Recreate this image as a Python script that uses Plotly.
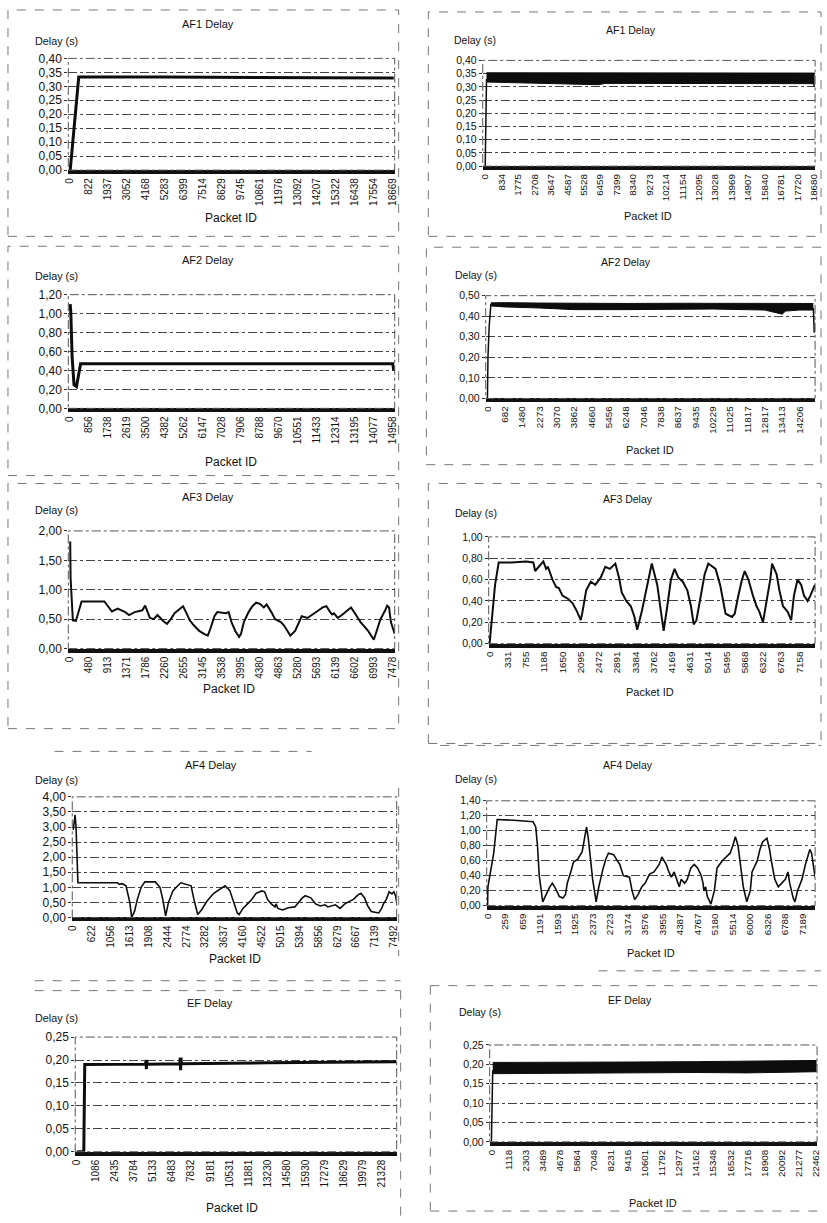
import plotly.graph_objects as go

FONT = "Liberation Sans, Arial, sans-serif"

# ===================== DATA (x = position in tick-label units) =====================
# --- AF1 left ---
AF1L_ticks = ["0", "822", "1937", "3052", "4168", "5283", "6399", "7514", "8629", "9745",
              "10861", "11976", "13092", "14207", "15322", "16438", "17554", "18669"]
AF1L_x = [0.0, 0.45, 5.0, 10.0, 17.05]
AF1L_y = [0.0, 0.333, 0.333, 0.331, 0.330]

# --- AF1 right ---
AF1R_ticks = ["0", "834", "1775", "2708", "3647", "4587", "5528", "6459", "7399", "8340",
              "9273", "10214", "11154", "12095", "13028", "13969", "14907", "15840", "16781",
              "17720", "18680"]
AF1R_rise_x = [0.0, 0.03, 0.08]
AF1R_rise_y = [0.0, 0.20, 0.33]
AF1R_band_x = [0.08, 3.0, 6.9, 7.3, 12.0, 17.0, 19.95, 20.05]
AF1R_band_lo = [0.318, 0.314, 0.308, 0.313, 0.312, 0.310, 0.312, 0.300]
AF1R_band_hi = [0.353, 0.353, 0.352, 0.352, 0.352, 0.351, 0.352, 0.352]

# --- AF2 left ---
AF2L_ticks = ["0", "856", "1738", "2619", "3500", "4382", "5262", "6147", "7028", "7906",
              "8788", "9670", "10551", "11433", "12314", "13195", "14077", "14958"]
AF2L_x = [0.0, 0.03, 0.1, 0.2, 0.33, 0.42, 0.55, 8.0, 17.0, 17.05]
AF2L_y = [1.10, 1.02, 0.55, 0.25, 0.23, 0.32, 0.47, 0.47, 0.47, 0.40]

# --- AF2 right ---
AF2R_ticks = ["0", "682", "1480", "2273", "3070", "3862", "4660", "5456", "6248", "7046",
              "7838", "8637", "9435", "10229", "11025", "11817", "12817", "13413", "14206"]
AF2R_rise_x = [0.0, 0.03, 0.1, 0.2]
AF2R_rise_y = [0.0, 0.20, 0.35, 0.46]
AF2R_band_x = [0.2, 1.0, 3.0, 5.0, 8.0, 11.0, 13.0, 16.0, 17.0, 17.2, 18.0, 18.8]
AF2R_band_lo = [0.450, 0.445, 0.440, 0.432, 0.432, 0.435, 0.435, 0.430, 0.410, 0.425, 0.430, 0.430]
AF2R_band_hi = [0.465, 0.466, 0.464, 0.462, 0.462, 0.463, 0.463, 0.462, 0.462, 0.462, 0.462, 0.462]
AF2R_end_x = [18.8, 18.85]
AF2R_end_y = [0.44, 0.32]

# --- AF3 left ---
AF3L_ticks = ["0", "480", "913", "1371", "1786", "2260", "2655", "3145", "3538", "3995",
              "4380", "4863", "5280", "5693", "6139", "6602", "6993", "7478"]
AF3L_x = [0.0, 0.02, 0.14, 0.3, 0.6, 1.8, 2.2, 2.5, 2.9, 3.1, 3.4, 3.8, 3.95, 4.2, 4.4, 4.6,
          4.9, 5.1, 5.3, 5.5, 5.8, 5.95, 6.1, 6.3, 6.5, 6.8, 7.05, 7.25, 7.4, 7.6, 7.75, 8.2,
          8.35, 8.5, 8.7, 8.9, 9.0, 9.15, 9.4, 9.6, 9.8, 10.0, 10.2, 10.35, 10.6, 10.8, 11.1,
          11.25, 11.45, 11.6, 11.85, 12.0, 12.2, 12.5, 12.7, 13.0, 13.3, 13.5, 13.7, 13.8,
          13.9, 14.1, 14.35, 14.6, 14.8, 15.0, 15.3, 15.7, 15.9, 16.0, 16.2, 16.35, 16.6,
          16.7, 16.8, 16.9, 17.0, 17.1]
AF3L_y = [1.82, 1.20, 0.48, 0.47, 0.80, 0.80, 0.63, 0.68, 0.62, 0.57, 0.62, 0.65, 0.73, 0.52,
          0.50, 0.57, 0.47, 0.42, 0.50, 0.60, 0.68, 0.72, 0.62, 0.48, 0.40, 0.30, 0.25, 0.22,
          0.35, 0.55, 0.62, 0.60, 0.62, 0.45, 0.30, 0.20, 0.25, 0.45, 0.62, 0.72, 0.78, 0.76,
          0.70, 0.75, 0.62, 0.50, 0.45, 0.40, 0.30, 0.22, 0.30, 0.42, 0.55, 0.52, 0.57, 0.63,
          0.70, 0.72, 0.62, 0.58, 0.60, 0.52, 0.58, 0.65, 0.70, 0.60, 0.45, 0.30, 0.20, 0.15,
          0.35, 0.50, 0.65, 0.73, 0.70, 0.45, 0.35, 0.25]

# --- AF3 right ---
AF3R_ticks = ["0", "331", "755", "1188", "1650", "2095", "2472", "2891", "3384", "3762",
              "4169", "4631", "5014", "5495", "5868", "6322", "6763", "7158"]
AF3R_x = [0.0, 0.3, 0.5, 1.2, 2.0, 2.4, 2.5, 2.85, 2.95, 3.1, 3.2, 3.45, 3.65, 3.8, 4.0, 4.3,
          4.55, 4.8, 5.0, 5.1, 5.3, 5.55, 5.8, 6.1, 6.35, 6.6, 6.9, 7.1, 7.25, 7.5, 7.75, 7.95,
          8.1, 8.35, 8.65, 8.9, 9.2, 9.4, 9.55, 9.75, 9.95, 10.15, 10.35, 10.6, 10.85, 11.05,
          11.2, 11.35, 11.6, 11.8, 12.0, 12.4, 12.65, 12.8, 12.95, 13.3, 13.45, 13.65, 13.85,
          14.0, 14.2, 14.45, 14.65, 14.8, 15.0, 15.2, 15.4, 15.5, 15.75, 15.9, 16.1, 16.35,
          16.55, 16.7, 16.9, 17.1, 17.25, 17.45, 17.6, 17.85]
AF3R_y = [0.0, 0.55, 0.76, 0.76, 0.77, 0.76, 0.68, 0.75, 0.77, 0.70, 0.72, 0.60, 0.53, 0.52,
          0.45, 0.42, 0.38, 0.30, 0.22, 0.30, 0.50, 0.58, 0.55, 0.62, 0.72, 0.70, 0.75, 0.62,
          0.48, 0.40, 0.35, 0.25, 0.13, 0.30, 0.55, 0.75, 0.55, 0.30, 0.12, 0.35, 0.60, 0.70,
          0.62, 0.58, 0.50, 0.35, 0.18, 0.22, 0.45, 0.65, 0.75, 0.70, 0.55, 0.40, 0.28, 0.25,
          0.28, 0.45, 0.60, 0.68, 0.60, 0.45, 0.35, 0.30, 0.20, 0.40, 0.60, 0.75, 0.65, 0.50,
          0.35, 0.30, 0.22, 0.45, 0.60, 0.55, 0.45, 0.40, 0.45, 0.55]

# --- AF4 left ---
AF4L_ticks = ["0", "622", "1056", "1613", "1908", "2444", "2774", "3282", "3637", "4160",
              "4522", "5015", "5394", "5856", "6279", "6667", "7139", "7492"]
AF4L_x = [0.0, 0.05, 0.1, 0.15, 0.2, 0.25, 2.35, 2.45, 2.6, 2.8, 3.0, 3.1, 3.25, 3.4, 3.6,
          3.8, 4.35, 4.6, 4.75, 4.85, 4.9, 5.05, 5.3, 5.7, 6.05, 6.25, 6.4, 6.6, 6.8, 7.1,
          7.45, 7.9, 8.05, 8.3, 8.5, 8.7, 8.8, 9.0, 9.4, 9.7, 10.0, 10.15, 10.3, 10.5, 10.7,
          10.75, 10.85, 11.1, 11.4, 11.75, 11.95, 12.15, 12.3, 12.6, 12.85, 13.1, 13.35, 13.5,
          13.9, 14.15, 14.4, 14.85, 15.1, 15.25, 15.45, 15.6, 15.8, 16.2, 16.35, 16.45, 16.6,
          16.75, 16.9, 17.0, 17.1, 17.15]
AF4L_y = [2.90, 3.30, 3.40, 3.00, 1.50, 1.15, 1.15, 1.10, 1.12, 1.05, 0.50, 0.00, 0.20, 0.60,
          1.00, 1.18, 1.18, 1.00, 0.60, 0.25, 0.05, 0.50, 0.90, 1.15, 1.10, 1.05, 0.60, 0.10,
          0.25, 0.55, 0.80, 1.00, 1.05, 0.90, 0.50, 0.15, 0.10, 0.30, 0.55, 0.80, 0.88, 0.85,
          0.60, 0.45, 0.35, 0.45, 0.30, 0.25, 0.32, 0.35, 0.50, 0.65, 0.72, 0.65, 0.45, 0.38,
          0.42, 0.35, 0.42, 0.30, 0.45, 0.60, 0.75, 0.80, 0.65, 0.40, 0.20, 0.15, 0.30, 0.45,
          0.60, 0.85, 0.78, 0.85, 0.70, 0.50]

# --- AF4 right ---
AF4R_ticks = ["0", "259", "659", "1191", "1593", "1925", "2373", "2723", "3174", "3576",
              "3955", "4387", "4767", "5180", "5514", "6000", "6326", "6788", "7189"]
AF4R_x = [0.0, 0.02, 0.35, 0.55, 1.5, 2.6, 2.75, 2.85, 2.95, 3.15, 3.35, 3.55, 3.7, 3.9,
          4.1, 4.3, 4.45, 4.55, 4.75, 4.9, 5.15, 5.4, 5.5, 5.65, 5.75, 5.9, 6.0, 6.2, 6.35,
          6.6, 6.75, 6.9, 7.2, 7.4, 7.55, 7.75, 8.1, 8.25, 8.4, 8.6, 8.8, 9.0, 9.25, 9.5, 9.8,
          9.95, 10.2, 10.35, 10.5, 10.65, 10.8, 10.95, 11.05, 11.25, 11.4, 11.6, 11.8, 12.0,
          12.2, 12.3, 12.35, 12.45, 12.55, 12.75, 12.95, 13.1, 13.4, 13.6, 13.85, 14.0, 14.15,
          14.3, 14.45, 14.6, 14.8, 15.0, 15.1, 15.4, 15.55, 15.7, 15.95, 16.1, 16.2, 16.4,
          16.6, 16.8, 17.0, 17.15, 17.25, 17.45, 17.55, 17.7, 17.95, 18.15, 18.4, 18.5, 18.55,
          18.7]
AF4R_y = [0.0, 0.25, 0.70, 1.15, 1.14, 1.12, 1.05, 0.80, 0.40, 0.05, 0.15, 0.25, 0.30, 0.22,
          0.12, 0.10, 0.15, 0.30, 0.45, 0.58, 0.62, 0.72, 0.85, 1.05, 0.90, 0.60, 0.35, 0.05,
          0.25, 0.50, 0.62, 0.70, 0.68, 0.60, 0.55, 0.40, 0.38, 0.20, 0.08, 0.15, 0.25, 0.30,
          0.42, 0.45, 0.55, 0.65, 0.55, 0.45, 0.38, 0.45, 0.35, 0.25, 0.35, 0.30, 0.35, 0.50,
          0.55, 0.50, 0.40, 0.30, 0.20, 0.25, 0.12, 0.02, 0.20, 0.50, 0.60, 0.65, 0.70, 0.80,
          0.92, 0.80, 0.50, 0.25, 0.05, 0.20, 0.45, 0.60, 0.75, 0.85, 0.90, 0.75, 0.60, 0.35,
          0.25, 0.30, 0.35, 0.45, 0.30, 0.10, 0.05, 0.20, 0.35, 0.55, 0.75, 0.70, 0.62, 0.38]

# --- EF left ---
EFL_ticks = ["0", "1086", "2435", "3784", "5133", "6483", "7832", "9181", "10531", "11881",
             "13230", "14580", "15930", "17279", "18629", "19979", "21328"]
EFL_x = [0.0, 0.35, 0.4, 3.6, 3.62, 3.64, 3.66, 3.68, 5.4, 5.42, 5.44, 5.46, 5.48, 10.0, 16.8]
EFL_y = [0.0, 0.0, 0.190, 0.191, 0.200, 0.180, 0.200, 0.191, 0.192, 0.205, 0.178, 0.205,
         0.192, 0.194, 0.196]

# --- EF right ---
EFR_ticks = ["0", "1118", "2303", "3489", "4678", "5864", "7048", "8231", "9416", "10601",
             "11792", "12977", "14162", "15348", "16532", "17716", "18908", "20092", "21277",
             "22462"]
EFR_rise_x = [0.0, 0.03, 0.08]
EFR_rise_y = [0.0, 0.12, 0.185]
EFR_band_x = [0.08, 3.0, 8.0, 12.0, 15.0, 19.05]
EFR_band_lo = [0.176, 0.177, 0.178, 0.179, 0.178, 0.181]
EFR_band_hi = [0.205, 0.205, 0.206, 0.207, 0.208, 0.210]

# ===================== LAYOUT SPEC (pixels) =====================
W, H = 827, 1223


def px(x):
    return x / W


def py(y):
    return 1 - y / H


LEFT_FS = dict(title=11, ylab=10.8, xlab=12, ytick=12, xtick=10)
RIGHT_FS = dict(title=10.5, ylab=10.5, xlab=11, ytick=10.5, xtick=9.8)

panels = [
    dict(title="AF1 Delay", rect=(64, 394, 52, 165), ymax=0.40, dtick=0.05, ticks=AF1L_ticks,
         xr=(-0.1, 17.1), t=(205, 17), yl=(28, 34), xl=(228, 213), fs=LEFT_FS),
    dict(title="AF1 Delay", rect=(483, 819, 54, 161), ymax=0.40, dtick=0.05, ticks=AF1R_ticks,
         xr=(-0.15, 20.08), t=(633, 23), yl=(452, 33), xl=(650, 211), fs=RIGHT_FS),
    dict(title="AF2 Delay", rect=(64, 394, 291, 406), ymax=1.20, dtick=0.20, ticks=AF2L_ticks,
         xr=(-0.1, 17.1), t=(205, 256), yl=(28, 272), xl=(228, 460), fs=LEFT_FS),
    dict(title="AF2 Delay", rect=(486, 819, 292, 396), ymax=0.50, dtick=0.10, ticks=AF2R_ticks,
         xr=(-0.1, 18.9), t=(628, 258), yl=(453, 271), xl=(652, 448), fs=RIGHT_FS),
    dict(title="AF3 Delay", rect=(64, 394, 530, 649), ymax=2.00, dtick=0.50, ticks=AF3L_ticks,
         xr=(-0.1, 17.1), t=(205, 496), yl=(28, 509), xl=(226, 690), fs=LEFT_FS),
    dict(title="AF3 Delay", rect=(489, 819, 536, 644), ymax=1.00, dtick=0.20, ticks=AF3R_ticks,
         xr=(-0.05, 17.86), t=(630, 498), yl=(453, 512), xl=(652, 693), fs=RIGHT_FS),
    dict(title="AF4 Delay", rect=(68, 396, 799, 921), ymax=4.00, dtick=0.50, ticks=AF4L_ticks,
         xr=(-0.05, 17.15), t=(208, 767), yl=(28, 782), xl=(233, 963), fs=LEFT_FS),
    dict(title="AF4 Delay", rect=(487, 819, 803, 909), ymax=1.40, dtick=0.20, ticks=AF4R_ticks,
         xr=(-0.05, 18.7), t=(630, 767), yl=(453, 781), xl=(653, 957), fs=RIGHT_FS),
    dict(title="EF Delay", rect=(71, 396, 1042, 1158), ymax=0.25, dtick=0.05, ticks=EFL_ticks,
         xr=(-0.1, 16.8), t=(207, 1008), yl=(28, 1023), xl=(230, 1215), fs=LEFT_FS),
    dict(title="EF Delay", rect=(490, 821, 1050, 1148), ymax=0.25, dtick=0.05, ticks=EFR_ticks,
         xr=(-0.1, 19.08), t=(632, 1004), yl=(457, 1017), xl=(655, 1210), fs=RIGHT_FS),
]

fig = go.Figure()
LINE = "#0d0d0d"


def add_line(i, x, y, w=2.5):
    fig.add_trace(go.Scatter(x=x, y=y, mode="lines", line=dict(color=LINE, width=w),
                             xaxis=f"x{i}", yaxis=f"y{i}", hoverinfo="skip"))


def add_band(i, x, lo, hi):
    fig.add_trace(go.Scatter(x=x, y=lo, mode="lines", line=dict(color=LINE, width=1),
                             xaxis=f"x{i}", yaxis=f"y{i}", hoverinfo="skip"))
    fig.add_trace(go.Scatter(x=x, y=hi, mode="lines", line=dict(color=LINE, width=1),
                             fill="tonexty", fillcolor=LINE,
                             xaxis=f"x{i}", yaxis=f"y{i}", hoverinfo="skip"))


add_line(1, AF1L_x, AF1L_y, 3)
add_line(2, AF1R_rise_x, AF1R_rise_y, 1.5)
add_band(2, AF1R_band_x, AF1R_band_lo, AF1R_band_hi)
add_line(3, AF2L_x, AF2L_y, 3)
add_line(4, AF2R_rise_x, AF2R_rise_y, 1.5)
add_band(4, AF2R_band_x, AF2R_band_lo, AF2R_band_hi)
add_line(4, AF2R_end_x, AF2R_end_y, 1.5)
add_line(5, AF3L_x, AF3L_y, 2)
add_line(6, AF3R_x, AF3R_y, 2)
add_line(7, AF4L_x, AF4L_y, 1.6)
add_line(8, AF4R_x, AF4R_y, 1.6)
add_line(9, EFL_x, EFL_y, 3)
add_line(10, EFR_rise_x, EFR_rise_y, 1.5)
add_band(10, EFR_band_x, EFR_band_lo, EFR_band_hi)

layout = dict(
    width=W, height=H, margin=dict(l=0, r=0, t=0, b=0),
    paper_bgcolor="white", plot_bgcolor="white", showlegend=False,
    separators=", ", font=dict(family=FONT, color="#111"),
)
annotations = []
shapes = []

for k, p in enumerate(panels, start=1):
    l, r, t, b = p["rect"]
    fs = p["fs"]
    xa = dict(domain=[px(l), px(r)], range=list(p["xr"]), anchor=f"y{k}",
              tickmode="array", tickvals=list(range(len(p["ticks"]))), ticktext=p["ticks"],
              tickangle=-90, tickfont=dict(size=fs["xtick"], family=FONT, color="#111"),
              ticklabeloverflow="allow",
              showgrid=False, zeroline=False, showline=True, linecolor="#111", linewidth=4,
              ticks="", fixedrange=True)
    ya = dict(domain=[py(b), py(t)], range=[0, p["ymax"]], anchor=f"x{k}",
              dtick=p["dtick"], tick0=0, tickformat=".2f",
              tickfont=dict(size=fs["ytick"], family=FONT, color="#111"),
              ticklabeloverflow="allow",
              showgrid=True, gridcolor="#444", gridwidth=1, griddash="dashdot",
              zeroline=False, showline=False, ticks="outside", ticklen=3, tickcolor="#333",
              fixedrange=True)
    layout[f"xaxis{k}" if k > 1 else "xaxis"] = xa
    layout[f"yaxis{k}" if k > 1 else "yaxis"] = ya
    shapes.append(dict(type="rect", xref="paper", yref="paper", x0=px(l), x1=px(r),
                       y0=py(b), y1=py(t), line=dict(color="#555", width=1, dash="dashdot")))
    annotations.append(dict(text=p["title"], x=px(p["t"][0]), y=py(p["t"][1]), xref="paper",
                            yref="paper", showarrow=False, xanchor="center", yanchor="middle",
                            font=dict(size=fs["title"], family=FONT, color="#111")))
    annotations.append(dict(text="Delay (s)", x=px(p["yl"][0]), y=py(p["yl"][1]), xref="paper",
                            yref="paper", showarrow=False, xanchor="left", yanchor="middle",
                            font=dict(size=fs["ylab"], family=FONT, color="#111")))
    annotations.append(dict(text="Packet ID", x=px(p["xl"][0]), y=py(p["xl"][1]), xref="paper",
                            yref="paper", showarrow=False, xanchor="center", yanchor="middle",
                            font=dict(size=fs["xlab"], family=FONT, color="#111")))

frames = [
    (3, 398, 3, 232), (428, 825, 5, 232),
    (3, 398, 242, 474), (426, 825, 243, 463),
    (3, 398, 482, 730), (428, 825, 482, 745),
]
for (x0, x1, y0, y1) in frames:
    shapes.append(dict(type="rect", xref="paper", yref="paper", x0=px(x0), x1=px(x1),
                       y0=py(y1), y1=py(y0), line=dict(color="#777", width=1, dash="dash")))
seg = [
    (50, 753, 310, 753), (398, 790, 398, 960),
    (440, 747, 825, 747), (600, 975, 825, 975),
    (30, 985, 400, 985), (30, 995, 400, 995), (400, 995, 400, 1223),
    (430, 990, 825, 990), (430, 990, 430, 1218), (430, 1218, 825, 1218),
]
for (x0, y0, x1, y1) in seg:
    shapes.append(dict(type="line", xref="paper", yref="paper", x0=px(x0), x1=px(x1),
                       y0=py(y0), y1=py(y1), line=dict(color="#777", width=1, dash="dash")))

layout["annotations"] = annotations
layout["shapes"] = shapes
fig.update_layout(**layout)
fig.write_html(
    "out.html",
    config={"displayModeBar": False, "staticPlot": True},
    post_script="document.body.style.margin='0';document.body.style.padding='0';"
                "document.body.style.overflow='hidden';",
)
